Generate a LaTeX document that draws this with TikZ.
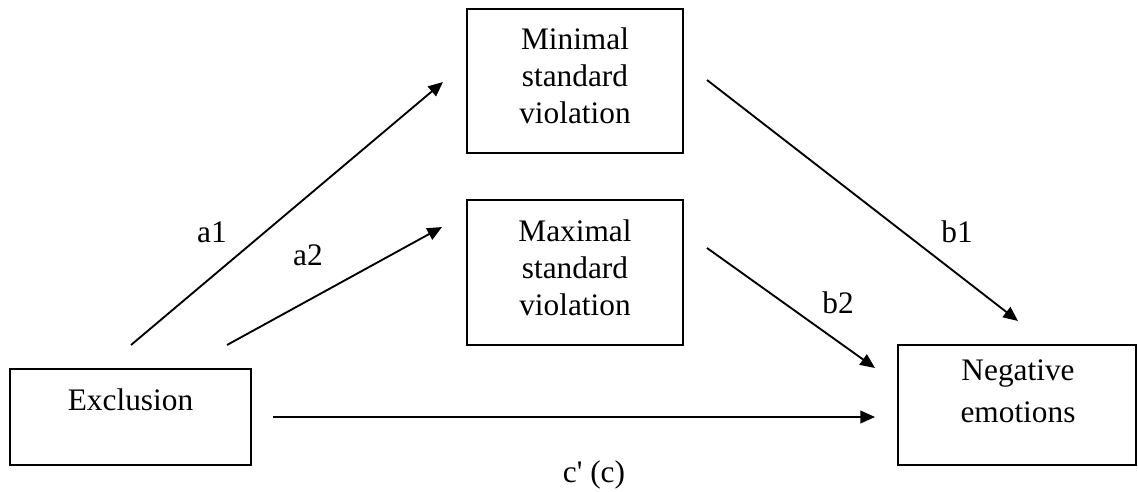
\documentclass[tikz,border=0pt]{standalone}
\usepackage{fontspec}
\setmainfont{Liberation Serif}
\newfontfamily\rawserif[Ligatures=ResetAll]{Liberation Serif}
\usetikzlibrary{arrows.meta}
\tikzset{
  boxnode/.style={draw=black, line width=1.8pt, rectangle, inner sep=0pt},
  txt/.style={font=\fontsize{23.5pt}{27.6pt}\selectfont, align=center, inner sep=0pt, anchor=base},
  arr/.style={line width=1.4pt, -{Triangle[length=11pt,width=9.5pt]}}
}
\begin{document}
\begin{tikzpicture}[x=0.75pt,y=-0.75pt]
\useasboundingbox (0,0) rectangle (1138,492);
% boxes
\node[boxnode, minimum width=180.75pt, minimum height=72pt] (excbox) at (130.5,417) {};
\node[boxnode, minimum width=162pt, minimum height=108pt] (minbox) at (575,81) {};
\node[boxnode, minimum width=162pt, minimum height=108.75pt] (maxbox) at (575,272.5) {};
\node[boxnode, minimum width=178.5pt, minimum height=90pt] (negbox) at (1017,405) {};
% box texts (base anchor = last line's baseline)
\node[txt] (exctext) at (130.5,410) {Exclusion};
\node[txt] (mintext) at (575,123) {Minimal\\standard\\violation};
\node[txt] (maxtext) at (575,315) {Maximal\\standard\\violation};
\node[txt, font=\fontsize{23.5pt}{30.8pt}\selectfont] (negtext) at (1018,422) {Negative\\emotions};
% connector ends
\coordinate (a1s) at (131,345);
\coordinate (a1e) at (443,82);
\coordinate (a2s) at (227,345);
\coordinate (a2e) at (442,227);
\coordinate (b1s) at (707,80);
\coordinate (b1e) at (1018,321);
\coordinate (b2s) at (707,248);
\coordinate (b2e) at (875,368);
\coordinate (cs) at (273,417);
\coordinate (ce) at (875,417);
% connectors
\draw[arr] (a1s) -- (a1e);
\draw[arr] (a2s) -- (a2e);
\draw[arr] (b1s) -- (b1e);
\draw[arr] (b2s) -- (b2e);
\draw[arr] (cs) -- (ce);
% labels
\node[txt] (la1) at (212,242) {a1};
\node[txt] (la2) at (308,265) {a2};
\node[txt] (lb1) at (957,242) {b1};
\node[txt] (lb2) at (838,313) {b2};
\node[txt] (lc) at (594,482) {\rawserif c' (c)};
\end{tikzpicture}
\end{document}
